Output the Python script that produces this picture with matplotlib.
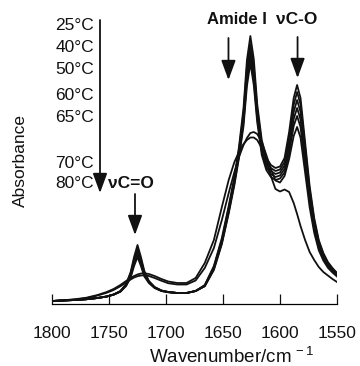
import matplotlib
matplotlib.use("Agg")
import matplotlib.pyplot as plt

plt.rcParams['font.family'] = ['Liberation Sans', 'DejaVu Sans']
plt.rcParams['mathtext.fontset'] = 'custom'
plt.rcParams['mathtext.rm'] = 'Liberation Sans'

# ---------------- data ----------------
wavenumber = [1800, 1790, 1780, 1770, 1760, 1752, 1746, 1740, 1735, 1731,
              1728, 1725, 1722, 1719, 1715, 1710, 1704, 1698, 1690, 1682,
              1674, 1666, 1658, 1651, 1645, 1640, 1636, 1632, 1629, 1626,
              1623, 1620, 1616, 1612, 1608, 1604, 1600, 1596, 1592, 1588,
              1585, 1582, 1578, 1574, 1570, 1566, 1562, 1558, 1554, 1550]

abs_25 = [0.000, 0.002, 0.004, 0.007, 0.012, 0.018, 0.026, 0.040, 0.068, 0.116,
          0.176, 0.224, 0.176, 0.120, 0.080, 0.056, 0.042, 0.036, 0.032, 0.032,
          0.040, 0.064, 0.140, 0.252, 0.380, 0.496, 0.616, 0.772, 0.964, 1.060,
          0.968, 0.788, 0.644, 0.572, 0.544, 0.532, 0.538, 0.572, 0.676, 0.812,
          0.864, 0.812, 0.636, 0.460, 0.332, 0.244, 0.192, 0.156, 0.132, 0.112]

abs_40 = [0.000, 0.002, 0.004, 0.007, 0.012, 0.018, 0.026, 0.039, 0.066, 0.110,
          0.166, 0.208, 0.166, 0.114, 0.078, 0.055, 0.042, 0.036, 0.032, 0.032,
          0.040, 0.062, 0.136, 0.244, 0.372, 0.488, 0.604, 0.752, 0.936, 1.028,
          0.940, 0.768, 0.628, 0.560, 0.532, 0.520, 0.526, 0.556, 0.654, 0.784,
          0.836, 0.786, 0.616, 0.446, 0.322, 0.237, 0.187, 0.152, 0.129, 0.110]

abs_50 = [0.000, 0.002, 0.004, 0.007, 0.012, 0.018, 0.026, 0.038, 0.064, 0.104,
          0.156, 0.196, 0.156, 0.108, 0.076, 0.054, 0.041, 0.036, 0.032, 0.032,
          0.040, 0.060, 0.132, 0.238, 0.364, 0.480, 0.592, 0.732, 0.908, 1.000,
          0.912, 0.748, 0.612, 0.548, 0.520, 0.508, 0.514, 0.542, 0.632, 0.756,
          0.804, 0.756, 0.593, 0.430, 0.311, 0.229, 0.181, 0.148, 0.126, 0.107]

abs_60 = [0.000, 0.002, 0.004, 0.007, 0.012, 0.018, 0.025, 0.038, 0.062, 0.100,
          0.150, 0.188, 0.150, 0.104, 0.074, 0.053, 0.040, 0.035, 0.032, 0.032,
          0.040, 0.060, 0.128, 0.232, 0.356, 0.472, 0.580, 0.716, 0.884, 0.976,
          0.888, 0.732, 0.598, 0.536, 0.508, 0.496, 0.502, 0.528, 0.612, 0.728,
          0.772, 0.726, 0.570, 0.414, 0.300, 0.222, 0.176, 0.144, 0.122, 0.104]

abs_65 = [0.000, 0.002, 0.004, 0.007, 0.012, 0.018, 0.025, 0.037, 0.060, 0.094,
          0.140, 0.176, 0.140, 0.098, 0.072, 0.052, 0.040, 0.035, 0.032, 0.032,
          0.040, 0.059, 0.124, 0.228, 0.350, 0.464, 0.572, 0.700, 0.860, 0.952,
          0.864, 0.716, 0.584, 0.524, 0.496, 0.484, 0.490, 0.514, 0.590, 0.700,
          0.740, 0.696, 0.547, 0.397, 0.288, 0.214, 0.170, 0.139, 0.119, 0.102]

abs_70 = [0.000, 0.002, 0.006, 0.011, 0.022, 0.033, 0.044, 0.059, 0.074, 0.086,
          0.094, 0.099, 0.102, 0.103, 0.100, 0.092, 0.081, 0.071, 0.066, 0.066,
          0.082, 0.132, 0.212, 0.324, 0.432, 0.516, 0.576, 0.624, 0.652, 0.672,
          0.676, 0.668, 0.636, 0.584, 0.528, 0.482, 0.474, 0.500, 0.568, 0.660,
          0.696, 0.654, 0.515, 0.375, 0.273, 0.203, 0.162, 0.133, 0.114, 0.098]

abs_80 = [0.000, 0.003, 0.007, 0.013, 0.024, 0.036, 0.048, 0.064, 0.080, 0.092,
          0.100, 0.106, 0.110, 0.111, 0.108, 0.100, 0.088, 0.078, 0.072, 0.072,
          0.092, 0.152, 0.244, 0.376, 0.484, 0.556, 0.596, 0.628, 0.644, 0.654,
          0.654, 0.644, 0.612, 0.564, 0.500, 0.448, 0.438, 0.446, 0.436, 0.392,
          0.348, 0.300, 0.244, 0.196, 0.164, 0.136, 0.116, 0.102, 0.088, 0.076]

series = [abs_25, abs_40, abs_50, abs_60, abs_65, abs_70, abs_80]
temp_labels = ['25\u00b0C', '40\u00b0C', '50\u00b0C', '60\u00b0C', '65\u00b0C', '70\u00b0C', '80\u00b0C']
x_ticks = [1800, 1750, 1700, 1650, 1600, 1550]

# ---------------- figure ----------------
fig = plt.figure(figsize=(3.6, 3.66), dpi=100)
ax = fig.add_axes([52/360, 62.5/366, 285/360, 303.5/366])

for s in series:
    ax.plot(wavenumber, s, color='#111111', lw=1.3, solid_joinstyle='round')

ax.set_xlim(1800, 1550)
ax.set_ylim(-0.010, 1.204)
ax.set_xticks(x_ticks)
ax.set_xticklabels([str(t) for t in x_ticks])
ax.set_yticks([])
for side in ['top', 'right', 'left']:
    ax.spines[side].set_visible(False)
ax.spines['bottom'].set_linewidth(0.9)
ax.tick_params(axis='x', direction='in', length=7, width=0.9, pad=16.5,
               labelsize=12.5, colors='#111111')
ax.patch.set_alpha(0)

# temperature labels
temp_y = [1.104, 1.016, 0.924, 0.824, 0.736, 0.552, 0.472]
for lab, yv in zip(temp_labels, temp_y):
    ax.text(1763.2, yv, lab, ha='right', va='center', fontsize=12.5, color='#111111')

arrow_style = dict(arrowstyle='-|>,head_length=0.6,head_width=0.22',
                   mutation_scale=20, lw=1.3, color='#111111',
                   shrinkA=0, shrinkB=0)
ax.annotate('', xy=(1757.9, 0.432), xytext=(1757.9, 1.124), arrowprops=arrow_style)
ax.annotate('', xy=(1727.2, 0.264), xytext=(1727.2, 0.428), arrowprops=arrow_style)
ax.annotate('', xy=(1645.2, 0.884), xytext=(1645.2, 1.052), arrowprops=arrow_style)
ax.annotate('', xy=(1584.6, 0.892), xytext=(1584.6, 1.056), arrowprops=arrow_style)

ax.text(1750.9, 0.468, '\u03bdC=O', ha='left', va='center', fontsize=12.5,
        fontweight='bold', color='#111111')
ax.text(1664.0, 1.124, 'Amide I', ha='left', va='center', fontsize=12,
        fontweight='bold', color='#111111')
ax.text(1603.5, 1.124, '\u03bdC-O', ha='left', va='center', fontsize=12.5,
        fontweight='bold', color='#111111')

fig.text(231.5/360, 1 - 363/366, 'Wavenumber/cm$^{\\,-1}$', ha='center', va='baseline',
         fontsize=13.5, color='#111111')
fig.text(20/360, 1 - 160/366, 'Absorbance', rotation=90, ha='center', va='center',
         fontsize=12.5, color='#111111')

fig.savefig('out.png', dpi=100)
